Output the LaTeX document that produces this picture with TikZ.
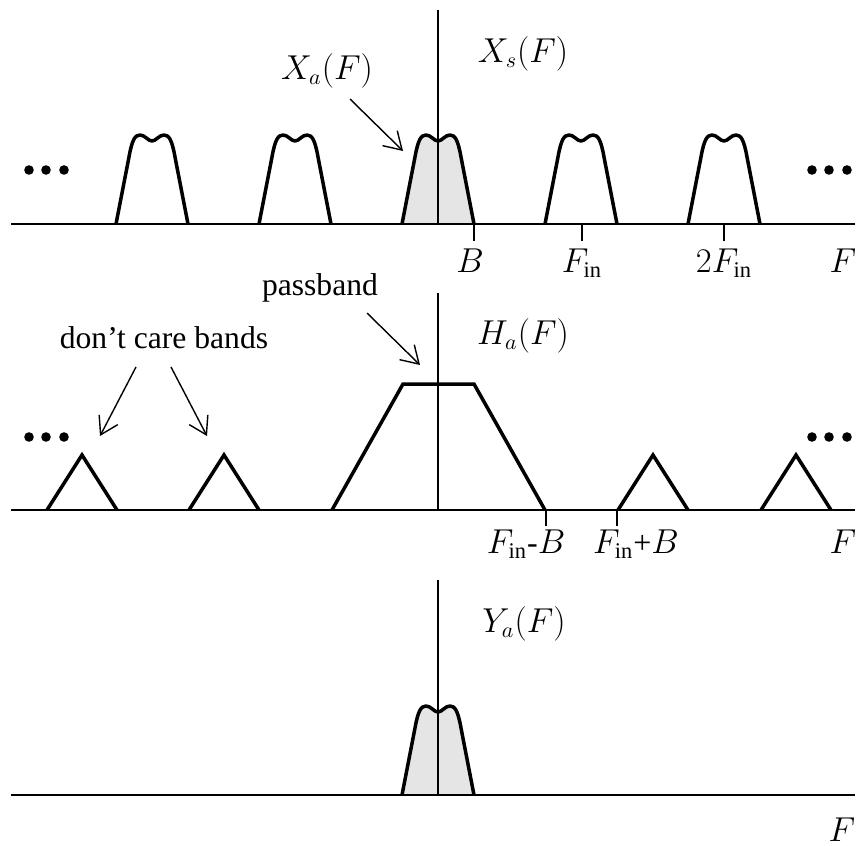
\documentclass[tikz,border=0pt]{standalone}
\usepackage{fontspec}
\setmainfont{Liberation Serif}
\usetikzlibrary{arrows.meta}
\begin{document}
\begin{tikzpicture}[x=0.5pt,y=-0.5pt,
  axisline/.style={line width=0.85pt},
  vline/.style={line width=0.55pt},
  tickline/.style={line width=0.55pt},
  thickline/.style={line width=1.75pt, line join=round},
  polyline/.style={line width=1.75pt, line join=miter},
  arr/.style={line width=0.7pt, -{Straight Barb[length=8.5pt,width=10.5pt]}},
  lbl/.style={inner sep=0pt, font=\fontsize{16}{19}\selectfont},
  txt/.style={inner sep=0pt, font=\fontsize{15.8}{19}\selectfont},
  dotmark/.style={fill=black, circle, inner sep=0pt, minimum size=4.8pt},
  pulseshape/.pic={\path[pic actions] (-36,0) -- (-23,-67) .. controls (-20,-84) and (-17,-89) .. (-12,-89) .. controls (-7,-89) and (-4,-83) .. (0,-83) .. controls (4,-83) and (7,-89) .. (12,-89) .. controls (17,-89) and (20,-84) .. (23,-67) -- (36,0);}
]
\useasboundingbox (0,0) rectangle (863,846);

% ---------- panel 1 ----------
\pic[fill=gray!20] at (438,224) {pulseshape};
\draw[axisline] (11,224) -- (855,224);
\draw[vline] (438,10) -- (438,224);
\foreach \cx in {152,295,438,581,724}{
  \pic[draw,thickline] at (\cx,224) {pulseshape};
}
\foreach \tx in {474,582,724}{
  \draw[tickline] (\tx,224) -- (\tx,241);
}
\foreach \dx [count=\i] in {29,46,64,812,829,847}{
  \node[dotmark] (da\i) at (\dx,170) {};
}
\node[lbl] (xs) at (523,54) {$X_s(F)$};
\node[lbl] (xa) at (327,71) {$X_a(F)$};
\coordinate (xaS) at (350,99);
\coordinate (xaE) at (403,151);
\draw[arr] (xaS) -- (xaE);
\node[lbl,anchor=base] (lB) at (470,272) {$B$};
\node[lbl,anchor=base] (lFin) at (582,272) {$F_{\mathrm{in}}$};
\node[lbl,anchor=base] (l2Fin) at (724,272) {$2F_{\mathrm{in}}$};
\node[lbl,anchor=base] (lF1) at (843,272) {$F$};

% ---------- panel 2 ----------
\draw[axisline] (11,510) -- (855,510);
\draw[vline] (438,293) -- (438,510);
\draw[polyline] (332,510) -- (403,384) -- (474,384) -- (545,510);
\foreach \cx in {82,224,653,796}{
  \draw[polyline] (\cx-35,510) -- (\cx,455) -- (\cx+35,510);
}
\foreach \tx in {546,617}{
  \draw[tickline] (\tx,510) -- (\tx,526);
}
\foreach \dx [count=\i] in {29,46,64,812,829,847}{
  \node[dotmark] (db\i) at (\dx,437) {};
}
\node[lbl] (ha) at (523,336) {$H_a(F)$};
\node[txt] (pb) at (320,288) {passband};
\coordinate (pbS) at (367,313);
\coordinate (pbE) at (420,365);
\draw[arr] (pbS) -- (pbE);
\node[txt] (dc) at (164,338) {don't care bands};
\coordinate (dcS1) at (136,367);
\coordinate (dcE1) at (100,436);
\coordinate (dcS2) at (171,367);
\coordinate (dcE2) at (207,436);
\draw[arr] (dcS1) -- (dcE1);
\draw[arr] (dcS2) -- (dcE2);
\node[lbl,anchor=base] (lFmB) at (526,553) {$F_{\mathrm{in}}$-$B$};
\node[lbl,anchor=base] (lFpB) at (636,553) {$F_{\mathrm{in}}$+$B$};
\node[lbl,anchor=base] (lF2) at (843,553) {$F$};

% ---------- panel 3 ----------
\pic[fill=gray!20] at (438,795) {pulseshape};
\draw[axisline] (11,795) -- (855,795);
\draw[vline] (438,580) -- (438,795);
\pic[draw,thickline] at (438,795) {pulseshape};
\node[lbl] (ya) at (524,624) {$Y_a(F)$};
\node[lbl,anchor=base] (lF3) at (842,841) {$F$};
\end{tikzpicture}
\end{document}
